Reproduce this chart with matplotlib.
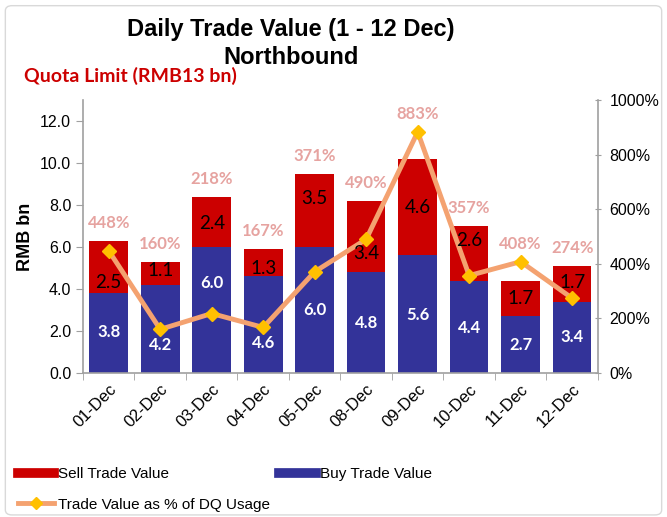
import matplotlib
matplotlib.use("Agg")
import matplotlib.pyplot as plt
import numpy as np
from matplotlib.patches import FancyBboxPatch
from matplotlib.lines import Line2D
from matplotlib.ticker import FixedLocator

dates = ["01-Dec", "02-Dec", "03-Dec", "04-Dec", "05-Dec", "08-Dec", "09-Dec", "10-Dec", "11-Dec", "12-Dec"]
buy = [3.8, 4.2, 6.0, 4.6, 6.0, 4.8, 5.6, 4.4, 2.7, 3.4]
sell = [2.5, 1.1, 2.4, 1.3, 3.5, 3.4, 4.6, 2.6, 1.7, 1.7]
pct = [448, 160, 218, 167, 371, 490, 883, 357, 408, 274]

RED = "#CC0000"
BLUE = "#333399"
LINE = "#F4A270"
MARK = "#FFC000"
PCTC = "#E6A3A0"
SANS = ["Liberation Sans", "DejaVu Sans"]
CAL = ["Lato", "DejaVu Sans"]

plt.rcParams["font.family"] = SANS

fig = plt.figure(figsize=(6.67, 5.17), dpi=100)
fig.patches.append(FancyBboxPatch((0.008, 0.004), 0.984, 0.985, boxstyle="round,pad=0,rounding_size=0.01",
                                  transform=fig.transFigure, facecolor="none", edgecolor="#D9D9D9", lw=1.0))

ax = fig.add_axes([0.1244, 0.2785, 0.772, 0.528])
x = np.arange(len(dates))
ax.bar(x, buy, width=0.75, color=BLUE, zorder=2)
ax.bar(x, sell, bottom=buy, width=0.75, color=RED, zorder=2)
ax.set_xlim(-0.5, len(dates) - 0.5)
ax.set_ylim(0, 13)
ax.set_yticks(np.arange(0, 13, 2.0))
ax.set_yticklabels([f"{v:.1f}" for v in np.arange(0, 13, 2.0)], fontsize=11.5)
ax.set_xticks(x)
ax.set_xticklabels(dates, rotation=45, ha="right", rotation_mode="anchor", fontsize=12)
ax.tick_params(axis="x", length=0, pad=6)
ax.xaxis.set_minor_locator(FixedLocator(np.arange(-0.5, len(dates), 1.0)))
ax.tick_params(axis="x", which="minor", length=5, color="#A0A0A0", direction="out")
ax.tick_params(axis="y", length=5, color="#A0A0A0", direction="out")
for s in ["top", "right"]:
    ax.spines[s].set_visible(False)
for s in ["left", "bottom"]:
    ax.spines[s].set_color("#A0A0A0")
    ax.spines[s].set_linewidth(1.2)
ax.set_ylabel("RMB bn", fontsize=13, fontweight="bold", labelpad=4)

ax2 = ax.twinx()
ax2.set_ylim(0, 1000)
ax2.set_yticks(np.arange(0, 1001, 200))
ax2.set_yticklabels([f"{int(v)}%" for v in np.arange(0, 1001, 200)], fontsize=11.5)
ax2.tick_params(axis="y", length=5, color="#A0A0A0", direction="inout", pad=6)
for s in ["top", "left", "bottom"]:
    ax2.spines[s].set_visible(False)
ax2.spines["right"].set_color("#A0A0A0")
ax2.spines["right"].set_linewidth(1.2)
ax2.plot(x, pct, color=LINE, lw=3.5, marker="D", markersize=7, markerfacecolor=MARK,
         markeredgecolor=MARK, zorder=5)

# label positions (left-axis units)
buy_lab_y = [1.95, 1.33, 4.3, 1.43, 3.0, 2.4, 2.76, 2.14, 1.33, 1.71]
sell_lab_y = [4.29, 4.9, 7.14, 5.0, 8.33, 5.7, 7.86, 6.33, 3.57, 4.29]
ax2.set_zorder(ax.get_zorder() + 1)
ax2.patch.set_visible(False)
tr = ax.transData
for i in range(len(dates)):
    ax2.text(x[i], buy_lab_y[i], f"{buy[i]:.1f}", ha="center", va="center", color="white",
             fontsize=12, fontweight="bold", family=CAL, zorder=6, transform=tr)
    ax2.text(x[i], sell_lab_y[i], f"{sell[i]:.1f}", ha="center", va="center", color="black",
             fontsize=13.5, family=CAL, zorder=6, transform=tr)
    top = max(buy[i] + sell[i], pct[i] / 1000 * 13)
    ax2.text(x[i], top + 0.85, f"{pct[i]}%", ha="center", va="center", color=PCTC,
             fontsize=12, fontweight="bold", family=CAL, zorder=6, transform=tr)

fig.text(0.436, 0.942, "Daily Trade Value (1 - 12 Dec)", ha="center", va="center",
         fontsize=17, fontweight="bold")
fig.text(0.436, 0.889, "Northbound", ha="center", va="center", fontsize=17, fontweight="bold")
fig.text(0.036, 0.853, "Quota Limit (RMB13 bn)", ha="left", va="center", fontsize=14,
         fontweight="bold", color=RED, family=CAL)

handles = [Line2D([0], [0], color=RED, lw=7),
           Line2D([0], [0], color=LINE, lw=3.5, marker="D", markersize=6,
                  markerfacecolor=MARK, markeredgecolor=MARK),
           Line2D([0], [0], color=BLUE, lw=7)]
labels = ["Sell Trade Value", "Trade Value as % of DQ Usage", "Buy Trade Value"]
fig.legend(handles, labels, ncol=2, loc="lower left", bbox_to_anchor=(0.006, -0.016),
           frameon=False, fontsize=11, handlelength=2.4, columnspacing=0.6,
           handletextpad=0.25, labelspacing=1.05)

fig.savefig("out.png", dpi=100)
